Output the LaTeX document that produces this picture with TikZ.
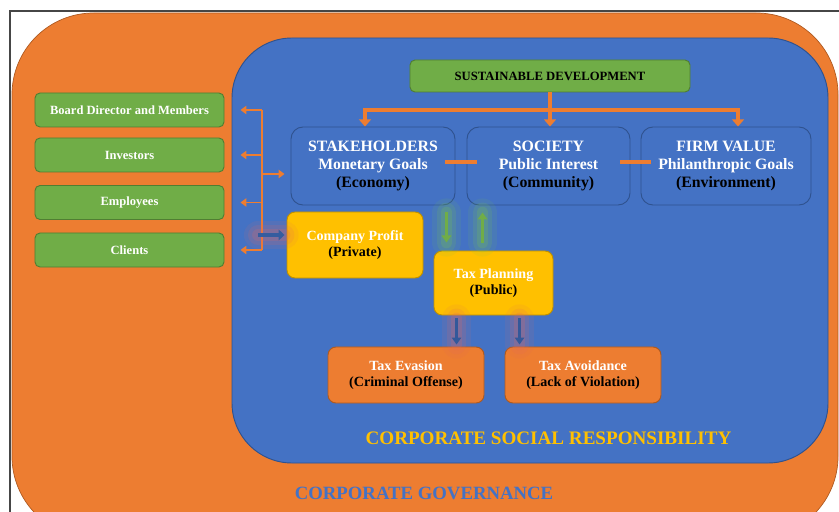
\documentclass[tikz,border=0pt]{standalone}
\usepackage{fontspec}
\setmainfont{Liberation Serif}
\definecolor{GovOrange}{RGB}{237,125,49}
\definecolor{GovEdge}{RGB}{174,90,33}
\definecolor{CsrBlue}{RGB}{68,114,196}
\definecolor{CsrEdge}{RGB}{47,82,143}
\definecolor{LeafGreen}{RGB}{112,173,71}
\definecolor{LeafEdge}{RGB}{80,126,50}
\definecolor{GoldFill}{RGB}{255,192,0}
\definecolor{GoldEdge}{RGB}{191,144,0}
\definecolor{FrameGray}{RGB}{70,70,70}
\definecolor{GlowRed}{RGB}{225,105,95}
\definecolor{GlowGreen}{RGB}{120,200,70}
\usetikzlibrary{positioning, arrows.meta, calc}
\tikzstyle{sidebox} = [rectangle, rounded corners=0.15cm, draw=LeafEdge, line width=0.8pt, fill=LeafGreen, minimum width=5.67cm, minimum height=1.02cm, text=white, font=\fontsize{10.7}{12}\selectfont\bfseries]
\tikzstyle{goalbox} = [rectangle, rounded corners=0.36cm, draw=CsrEdge, line width=0.8pt, fill=CsrBlue, minimum height=2.34cm, align=center, font=\fontsize{13.5}{15.7}\selectfont\bfseries]
\tikzstyle{goldbox} = [rectangle, rounded corners=0.24cm, draw=GoldEdge, line width=0.8pt, fill=GoldFill, align=center, font=\fontsize{12}{14}\selectfont\bfseries]
\tikzstyle{taxbox} = [rectangle, rounded corners=0.24cm, draw=GovEdge, line width=0.8pt, fill=GovOrange, minimum width=4.68cm, minimum height=1.68cm, align=center, font=\fontsize{12}{14}\selectfont\bfseries]
\tikzstyle{trunk} = [line width=4pt, GovOrange, -{Triangle[width=10pt,length=6pt]}]
\tikzstyle{link} = [line width=4pt, GovOrange, shorten <=-0.3cm, shorten >=-0.3cm]
\tikzstyle{fork} = [line width=1.5pt, GovOrange, -{Triangle[width=7pt,length=5pt]}]
\tikzstyle{greenglow} = [GlowGreen, line cap=round]
\tikzstyle{redglow} = [GlowRed, line cap=round]
\tikzstyle{gflow} = [line width=1.8pt, LeafGreen, -{Triangle[width=8pt,length=6pt]}]
\tikzstyle{bflow} = [line width=1.8pt, CsrEdge!80!CsrBlue, -{Triangle[width=8pt,length=6pt]}]
\newcommand{\wt}[1]{\textcolor{white}{#1}}
\newcommand{\haze}[3]{% style, from, to
  \draw[#1, line width=24pt, opacity=0.1] (#2) -- (#3);
  \draw[#1, line width=17pt, opacity=0.15] (#2) -- (#3);
  \draw[#1, line width=10pt, opacity=0.2] (#2) -- (#3);}
\begin{document}
\begin{tikzpicture}[x=0.03cm, y=-0.03cm]
\useasboundingbox (0,0) rectangle (839,512);
\clip (0,0) rectangle (839,512);
% Corporate governance
\draw[GovEdge, line width=0.6pt, fill=GovOrange, rounded corners=2.45cm] (12,13) rectangle (838,538);
\draw[FrameGray, line width=1.2pt] (839,11) -- (10,11) -- (10,512);
\node[text=CsrBlue, font=\fontsize{16}{18}\selectfont\bfseries] (cg) at (424,493) {CORPORATE GOVERNANCE};

% Corporate social responsibility
\draw[CsrEdge, line width=0.8pt, fill=CsrBlue, rounded corners=1.8cm] (232,38) rectangle (828,463);
\node[text=GoldFill, font=\fontsize{16.3}{18}\selectfont\bfseries] (csr) at (548.5,438) {CORPORATE SOCIAL RESPONSIBILITY};

% Left boxes
\node[sidebox] (bd) at (129.5,110) {Board Director and Members};
\node[sidebox] (inv) at (129.5,155) {Investors};
\node[sidebox] (emp) at (129.5,202.5) {Employees};
\node[sidebox] (cli) at (129.5,250) {Clients};

% Goals
\node[rectangle, rounded corners=0.15cm, draw=LeafEdge, line width=0.8pt, fill=LeafGreen, minimum width=8.4cm, minimum height=0.96cm, font=\fontsize{10.8}{12}\selectfont\bfseries] (sd) at (550,76) {SUSTAINABLE DEVELOPMENT};
\node[goalbox, minimum width=4.92cm] (stk) at (373,166) {\wt{STAKEHOLDERS}\\\wt{Monetary Goals}\\(Economy)};
\node[goalbox, minimum width=4.89cm] (soc) at (548.5,166) {\wt{SOCIETY}\\\wt{Public Interest}\\(Community)};
\node[goalbox, minimum width=5.1cm] (fv) at (726,166) {\wt{FIRM VALUE}\\\wt{Philanthropic Goals}\\(Environment)};

% Profit and tax
\node[goldbox, minimum width=4.08cm, minimum height=1.98cm] (cp) at (355,245) {\wt{Company Profit}\\(Private)};
\node[goldbox, minimum width=3.57cm, minimum height=1.92cm] (tp) at (493.5,283) {\wt{Tax Planning}\\(Public)};
\node[taxbox] (te) at (406,375) {\wt{Tax Evasion}\\(Criminal Offense)};
\node[taxbox] (ta) at (583,375) {\wt{Tax Avoidance}\\(Lack of Violation)};

% Sustainable development tree
\coordinate (bar) at (0,110);
\coordinate (stktop) at ($(stk.north)+(-8,0)$);
\coordinate (fvtop) at ($(fv.north)+(12,0)$);
\draw[trunk, {Triangle[width=10pt,length=6pt]}-{Triangle[width=10pt,length=6pt]}] (stktop) -- (stktop |- bar) -- (fvtop |- bar) -- (fvtop);
\draw[trunk] (sd.south) -- (sd.south |- soc.north);
\coordinate (dash) at (0,162);
\draw[link] (stk.east |- dash) -- (soc.west |- dash);
\draw[link] (soc.east |- dash) -- (fv.west |- dash);

% Stakeholder fork
\coordinate (spine) at (262,110);
\draw[line width=1.5pt, GovOrange] (spine |- bd.east) -- (spine |- cli.east);
\foreach \n in {bd,inv,emp,cli}
  \draw[fork, shorten >=0.48cm] (spine |- \n.east) -- (\n.east);
\draw[fork, shorten >=0.18cm] ($(spine |- stk.west)+(0,8)$) -- ($(stk.west)+(0,8)$);
\coordinate (cpin) at ($(cp.west)+(-2,-10)$);
\coordinate (cpout) at ($(spine |- cpin)+(-4,0)$);
\haze{redglow}{cpout}{cpin}
\draw[line width=3pt, CsrEdge!70!CsrBlue, -{Triangle[width=9pt,length=5pt]}] (cpout) -- (cpin);

% Flows with glow
\coordinate (g1) at ($(stk.south east)+(-9,7)$);
\coordinate (g1end) at ($(g1 |- tp.north)+(0,-8)$);
\coordinate (g2) at ($(soc.south west)+(16,7)$);
\coordinate (g2start) at ($(g2 |- tp.north)+(0,-8)$);
\coordinate (b1) at ($(tp.south west)+(23,3)$);
\coordinate (b1end) at ($(b1 |- te.north)+(0,-2)$);
\coordinate (b2) at ($(tp.south west)+(86,3)$);
\coordinate (b2end) at ($(b2 |- ta.north)+(0,-2)$);
\haze{greenglow}{g1}{g1end}
\haze{greenglow}{g2start}{g2}
\haze{redglow}{b1}{b1end}
\haze{redglow}{b2}{b2end}
\draw[gflow] (g1) -- (g1end);
\draw[gflow] (g2start) -- (g2);
\draw[bflow] (b1) -- (b1end);
\draw[bflow] (b2) -- (b2end);
\end{tikzpicture}
\end{document}
